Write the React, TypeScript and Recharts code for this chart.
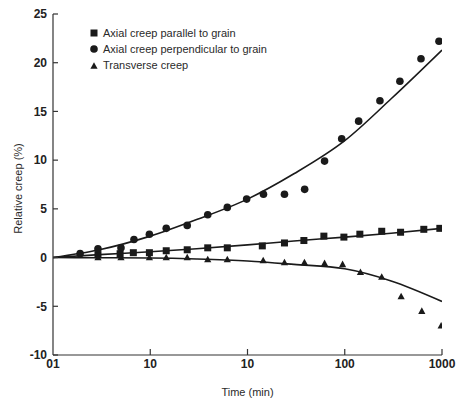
import { ComposedChart, Scatter, Line, XAxis, YAxis, Legend } from 'recharts'

// measured creep (%) against time (min)
const parallelTime = [0.29, 0.49, 0.67, 0.98, 1.46, 2.4, 3.9, 6.2, 14.2, 24, 38, 61, 98, 143, 240, 375, 650, 950]
const parallelCreep = [0.3, 0.4, 0.5, 0.5, 0.7, 0.8, 1.0, 1.0, 1.2, 1.5, 1.75, 2.2, 2.1, 2.4, 2.7, 2.6, 2.9, 3.0]

const perpTime = [0.19, 0.29, 0.5, 0.68, 0.98, 1.46, 2.4, 3.9, 6.2, 9.8, 14.6, 24, 38.7, 62, 93, 139, 230, 369, 608, 931]
const perpCreep = [0.4, 0.9, 1.0, 1.85, 2.4, 3.0, 3.3, 4.4, 5.15, 6.0, 6.5, 6.5, 7.0, 9.9, 12.2, 14.0, 16.1, 18.1, 20.4, 22.2]

const transTime = [0.29, 0.5, 0.98, 1.46, 2.4, 3.9, 6.2, 14.5, 24, 38.5, 62, 95, 145, 240, 380, 620, 980]
const transCreep = [0, 0, 0, 0, 0, -0.2, -0.2, -0.3, -0.5, -0.5, -0.6, -0.7, -1.5, -2.0, -4.0, -5.5, -7.0]

// fitted curves
const fitTime = [0.1, 0.3, 1, 3, 10, 30, 100, 300, 1000]
const parallelFit = [0, 0.3, 0.6, 0.9, 1.3, 1.7, 2.1, 2.5, 3.0]
const perpFit = [0, 0.8, 2.2, 3.9, 6.0, 8.6, 12.0, 16.3, 21.3]
const transFit = [0, -0.02, -0.05, -0.15, -0.35, -0.7, -1.15, -2.4, -4.5]

const xTicks = [0.1, 1, 10, 100, 1000]
const xTickLabels = ['01', '10', '10', '100', '1000']
const yTicks = [-10, -5, 0, 5, 10, 15, 20, 25]

const seriesNames = [
  'Axial creep parallel to grain',
  'Axial creep perpendicular to grain',
  'Transverse creep',
]

const INK = '#1a1a1a'
const AXIS = '#333'
const FONT = '"Liberation Sans", Arial, Helvetica, sans-serif'

const toPoints = (ts: number[], vs: number[]) => ts.map((t, i) => ({ t, v: vs[i] }))

function SquareDot({ cx, cy }: any) {
  return <rect x={cx - 3.5} y={cy - 3.5} width={7} height={7} fill={INK} />
}

function CircleDot({ cx, cy }: any) {
  return <circle cx={cx} cy={cy} r={3.8} fill={INK} />
}

function TriangleDot({ cx, cy }: any) {
  return (
    <polygon
      points={`${cx},${cy - 3.8} ${cx + 3.6},${cy + 2.8} ${cx - 3.6},${cy + 2.8}`}
      fill={INK}
    />
  )
}

// ticks point inward, so the tick marks are drawn with the labels
function XTick({ x, y, index }: any) {
  const axisY = y - 4
  return (
    <g>
      {index > 0 && <line x1={x} x2={x} y1={axisY} y2={axisY - 6} stroke={AXIS} strokeWidth={1.2} />}
      <text x={x} y={y} dy="0.71em" textAnchor="middle" fontFamily={FONT} fontSize={12} fontWeight="bold" fill="#222">
        {xTickLabels[index]}
      </text>
    </g>
  )
}

function YTick({ x, y, payload }: any) {
  const axisX = x + 6
  return (
    <g>
      <line x1={axisX} x2={axisX + 5} y1={y} y2={y} stroke={AXIS} strokeWidth={1.2} />
      <text x={x} y={y} dy="0.355em" textAnchor="end" fontFamily={FONT} fontSize={12} fontWeight="bold" fill="#222">
        {payload.value}
      </text>
    </g>
  )
}

function LegendIcon({ index }: { index: number }) {
  return (
    <svg width={12} height={12} style={{ marginRight: 3, flexShrink: 0 }}>
      {index === 0 && <SquareDot cx={6} cy={6} />}
      {index === 1 && <CircleDot cx={6} cy={6} />}
      {index === 2 && <TriangleDot cx={6} cy={7} />}
    </svg>
  )
}

function LegendBox() {
  return (
    <div style={{ fontFamily: FONT, fontSize: 11, color: '#2a2a2a' }}>
      {seriesNames.map((name, i) => (
        <div key={name} style={{ display: 'flex', alignItems: 'center', height: 16 }}>
          <LegendIcon index={i} />
          <span>{name}</span>
        </div>
      ))}
    </div>
  )
}

export default function App() {
  return (
    <div style={{ position: 'absolute', left: 0, top: 0, width: 459, height: 403, background: '#fff' }}>
      <ComposedChart width={459} height={403} margin={{ top: 14, right: 17, bottom: 28, left: 13 }}>
        <XAxis
          dataKey="t"
          type="number"
          scale="log"
          domain={[0.1, 1000]}
          allowDataOverflow
          ticks={xTicks}
          interval={0}
          height={20}
          tickSize={0}
          tickMargin={4}
          tickLine={false}
          tick={<XTick />}
          stroke={AXIS}
          strokeWidth={1.2}
          label={{
            value: 'Time (min)',
            position: 'bottom',
            offset: 13,
            style: { fontFamily: FONT, fontSize: 11, fill: '#2a2a2a' },
          }}
        />
        <YAxis
          dataKey="v"
          type="number"
          domain={[-10, 25]}
          ticks={yTicks}
          interval={0}
          width={40}
          tickSize={0}
          tickMargin={6}
          tickLine={false}
          tick={<YTick />}
          stroke={AXIS}
          strokeWidth={1.2}
          label={{
            value: 'Relative creep (%)',
            angle: -90,
            position: 'insideLeft',
            offset: 5,
            dy: 4,
            style: { textAnchor: 'middle', fontFamily: FONT, fontSize: 11, fill: '#2a2a2a' },
          }}
        />
        <Legend
          layout="vertical"
          align="center"
          verticalAlign="middle"
          wrapperStyle={{ top: 25, left: 88, width: 'auto' }}
          content={<LegendBox />}
        />
        <Line data={toPoints(fitTime, parallelFit)} dataKey="v" type="monotone" stroke={INK} strokeWidth={1.6} dot={false} legendType="none" isAnimationActive={false} />
        <Line data={toPoints(fitTime, perpFit)} dataKey="v" type="monotone" stroke={INK} strokeWidth={1.6} dot={false} legendType="none" isAnimationActive={false} />
        <Line data={toPoints(fitTime, transFit)} dataKey="v" type="monotone" stroke={INK} strokeWidth={1.6} dot={false} legendType="none" isAnimationActive={false} />
        <Scatter name={seriesNames[0]} data={toPoints(parallelTime, parallelCreep)} shape={<SquareDot />} isAnimationActive={false} />
        <Scatter name={seriesNames[1]} data={toPoints(perpTime, perpCreep)} shape={<CircleDot />} isAnimationActive={false} />
        <Scatter name={seriesNames[2]} data={toPoints(transTime, transCreep)} shape={<TriangleDot />} isAnimationActive={false} />
      </ComposedChart>
    </div>
  )
}
